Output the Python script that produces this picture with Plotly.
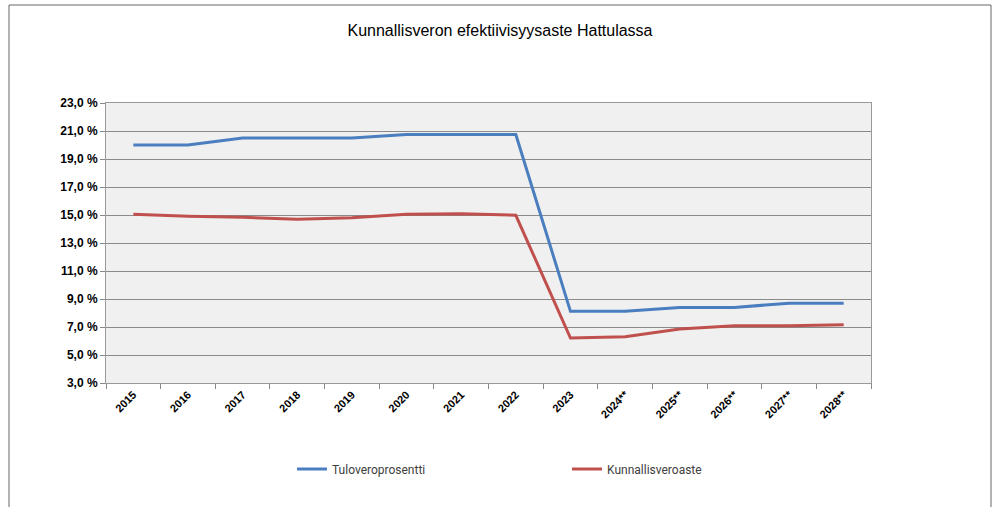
import plotly.graph_objects as go

years = ["2015", "2016", "2017", "2018", "2019", "2020", "2021", "2022", "2023",
         "2024**", "2025**", "2026**", "2027**", "2028**"]
tuloveroprosentti = [20.0, 20.0, 20.5, 20.5, 20.5, 20.75, 20.75, 20.75, 8.12, 8.12, 8.4, 8.4, 8.7, 8.7]
kunnallisveroaste = [15.05, 14.91, 14.84, 14.69, 14.81, 15.05, 15.09, 14.98, 6.21, 6.31, 6.86, 7.09, 7.09, 7.16]
y_ticks = [3, 5, 7, 9, 11, 13, 15, 17, 19, 21, 23]
y_tick_labels = [f"{v},0 %" for v in y_ticks]

W, H = 996, 507
L, R, T, B = 106, 125, 103, 124
pw, ph = W - L - R, H - T - B

def px_x(p):
    return (p - L) / pw

def px_y(p):
    return (H - B - p) / ph

fig = go.Figure()
fig.add_trace(go.Scatter(x=years, y=tuloveroprosentti, mode="lines", name="Tuloveroprosentti",
                         line=dict(color="#4A7EBF", width=3)))
fig.add_trace(go.Scatter(x=years, y=kunnallisveroaste, mode="lines", name="Kunnallisveroaste",
                         line=dict(color="#C0504D", width=3)))

fig.update_layout(
    width=W, height=H,
    margin=dict(l=L, r=R, t=T, b=B, autoexpand=False),
    paper_bgcolor="white",
    plot_bgcolor="#F0F0F0",
    title=dict(text="Kunnallisveron efektiivisyysaste Hattulassa",
               x=500 / W, xref="container", xanchor="center", y=1 - 30 / H, yref="container",
               yanchor="middle",
               font=dict(family="Liberation Sans Narrow, Arial Narrow, sans-serif", size=16, color="#000")),
    showlegend=True,
    legend=dict(orientation="h", x=px_x(292), xanchor="left", y=px_y(469), yanchor="middle",
                entrywidth=230, entrywidthmode="pixels", itemwidth=30,
                font=dict(family="Roboto, sans-serif", size=12, color="#404040"),
                bgcolor="rgba(0,0,0,0)"),
    xaxis=dict(type="category", range=[-0.5, 13.5], tickangle=-45, tickson="boundaries", ticks="outside",
               ticklen=5, tickcolor="#888", showgrid=False, showline=True, linecolor="#999",
               linewidth=1, mirror=True, automargin=False,
               tickfont=dict(family="Liberation Sans, Arial, sans-serif", size=11, color="#000", weight="bold")),
    yaxis=dict(range=[3, 23], tickvals=y_ticks, ticktext=y_tick_labels, ticks="outside",
               ticklen=5, tickcolor="#888", showgrid=True, gridcolor="#8A8A8A", gridwidth=1,
               showline=True, linecolor="#999", linewidth=1, mirror=True, zeroline=False,
               automargin=False,
               tickfont=dict(family="Liberation Sans, Arial, sans-serif", size=12, color="#000", weight="bold")),
    shapes=[dict(type="rect", xref="paper", yref="paper",
                 x0=px_x(9), x1=px_x(991), y0=px_y(515), y1=px_y(5),
                 line=dict(color="#666", width=1), fillcolor="rgba(0,0,0,0)", layer="below")],
)

fig.write_html("out.html", config={"displayModeBar": False},
               post_script="document.body.style.margin='0';document.body.style.overflow='hidden';")
